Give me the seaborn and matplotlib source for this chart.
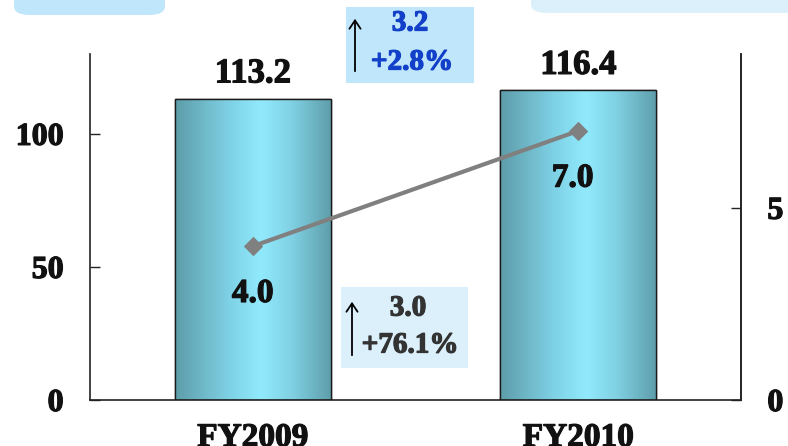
import numpy as np
import pandas as pd
import matplotlib
matplotlib.use("Agg")
import matplotlib.pyplot as plt
import matplotlib.patheffects as pe
import seaborn as sns
from matplotlib.colors import LinearSegmentedColormap
from matplotlib.patches import FancyBboxPatch, Rectangle, FancyArrowPatch

categories = ["FY2009", "FY2010"]
bar_values = [113.2, 116.4]
line_values = [4.0, 7.0]
bar_labels = ["113.2", "116.4"]
line_labels = ["4.0", "7.0"]
box1_lines = ["3.2", "+2.8%"]
box2_lines = ["3.0", "+76.1%"]
left_ticks = [0, 50, 100]
right_ticks = [0, 5]

sns.set_theme(style="white")
plt.rcParams["font.family"] = ["Liberation Serif", "DejaVu Serif"]
plt.rcParams["font.weight"] = "bold"


def heavy(color):
    return [pe.withStroke(linewidth=0.9, foreground=color)]


fig = plt.figure(figsize=(7.88, 4.46), dpi=100)
ax = fig.add_axes([90/788, 46/446, (741-90)/788, (400-54)/446])

df = pd.DataFrame({"cat": categories, "val": bar_values})
sns.barplot(data=df, x="cat", y="val", width=0.48, ax=ax, color="#8ee9fb",
            edgecolor="#1a1a1a", linewidth=1.0, zorder=2)

cmap = LinearSegmentedColormap.from_list(
    "cyl", [(0, "#5e9daa"), (0.35, "#7fd2e6"), (0.55, "#91eafc"), (0.75, "#7fd0e2"), (1, "#5e9daa")])
grad = np.linspace(0, 1, 256).reshape(1, -1)
for p in list(ax.patches):
    x0, y0 = p.get_x(), p.get_y()
    w, h = p.get_width(), p.get_height()
    im = ax.imshow(grad, cmap=cmap, extent=[x0, x0 + w, y0, y0 + h], aspect="auto", zorder=2.5)
    im.set_clip_path(p)
    ax.add_patch(Rectangle((x0, y0), w, h, fill=False, edgecolor="#1a1a1a", linewidth=1.0, zorder=3))

ax.set_xlim(-0.5, 1.5)
ax.set_ylim(0, 130)
ax.set_yticks(left_ticks)
ax.set_yticklabels([str(t) for t in left_ticks], fontsize=23, fontweight="bold")
ax.set_xticks([0, 1])
ax.set_xticklabels(categories, fontsize=24, fontweight="bold")
ax.set_xticks([0.5], minor=True)
ax.tick_params(axis="x", which="major", length=0, pad=16)
ax.tick_params(axis="x", which="minor", direction="in", length=6, width=1, color="#222222")
ax.tick_params(axis="y", direction="in", length=7, width=1, color="#222222", pad=19, left=True)
ax.set_xlabel("")
ax.set_ylabel("")
for s in ["left", "bottom", "right"]:
    ax.spines[s].set_color("#222222")
    ax.spines[s].set_linewidth(1.2)
ax.spines["top"].set_visible(False)
for t in ax.get_xticklabels() + ax.get_yticklabels():
    t.set_path_effects(heavy("#111111"))
    t.set_color("#111111")

for i, (v, lab) in enumerate(zip(bar_values, bar_labels)):
    ax.annotate(lab, (i, v), xytext=(0, 6), textcoords="offset points",
                ha="center", va="bottom", fontsize=25, fontweight="bold", color="#111111",
                path_effects=heavy("#111111"))

ax2 = ax.twinx()
sns.lineplot(x=[0, 1], y=line_values, ax=ax2, color="#808080", linewidth=3,
             marker="D", markersize=9, markeredgecolor="#808080", zorder=4)
ax2.set_ylim(0, 9)
ax2.set_xlim(-0.5, 1.5)
ax2.set_yticks(right_ticks)
ax2.set_yticklabels([str(t) for t in right_ticks], fontsize=23, fontweight="bold")
ax2.tick_params(axis="y", direction="in", length=7, width=1, color="#222222", pad=19, right=True)
ax2.set_ylabel("")
for s in ["top", "left", "bottom"]:
    ax2.spines[s].set_visible(False)
ax2.spines["right"].set_color("#222222")
ax2.spines["right"].set_linewidth(1.2)
for t in ax2.get_yticklabels():
    t.set_path_effects(heavy("#111111"))
    t.set_color("#111111")

for i, (v, lab) in enumerate(zip(line_values, line_labels)):
    ax2.annotate(lab, (i, v), xytext=(-4 if i else 0, -34), textcoords="offset points",
                 ha="center", va="center", fontsize=24, fontweight="bold", color="#111111",
                 path_effects=heavy("#111111"))

def fx(px):
    return px / 788
def fy(py):
    return (446 - py) / 446

# top decorative boxes
fig.patches.append(FancyBboxPatch((fx(14), fy(15)), fx(165) - fx(14), 40/446,
                                  boxstyle="round,pad=0,rounding_size=0.02",
                                  transform=fig.transFigure, facecolor="#c0e6fc", edgecolor="none"))
fig.patches.append(FancyBboxPatch((fx(531), fy(13)), 280/788, 40/446,
                                  boxstyle="round,pad=0,rounding_size=0.02",
                                  transform=fig.transFigure, facecolor="#dcf0fc", edgecolor="none"))

# annotation boxes
fig.patches.append(Rectangle((fx(346), fy(83)), fx(474) - fx(346), fy(7) - fy(83),
                             transform=fig.transFigure, facecolor="#c0e6fc", edgecolor="none", zorder=5))
fig.text(fx(410), fy(23), box1_lines[0], ha="center", va="center", fontsize=21,
         fontweight="bold", color="#1240c8", zorder=6, path_effects=heavy("#1240c8"))
fig.text(fx(412), fy(62), box1_lines[1], ha="center", va="center", fontsize=21,
         fontweight="bold", color="#1240c8", zorder=6, path_effects=heavy("#1240c8"))
fig.add_artist(FancyArrowPatch((fx(355), fy(74)), (fx(355), fy(16)),
               transform=fig.transFigure, arrowstyle="->,head_length=6,head_width=4",
               color="black", linewidth=1.3, zorder=6))

fig.patches.append(Rectangle((fx(341), fy(368)), fx(468) - fx(341), fy(287) - fy(368),
                             transform=fig.transFigure, facecolor="#dcf0fc", edgecolor="none", zorder=5))
fig.text(fx(408), fy(308), box2_lines[0], ha="center", va="center", fontsize=21,
         fontweight="bold", color="#333333", zorder=6, path_effects=heavy("#333333"))
fig.text(fx(410), fy(345), box2_lines[1], ha="center", va="center", fontsize=21,
         fontweight="bold", color="#333333", zorder=6, path_effects=heavy("#333333"))
fig.add_artist(FancyArrowPatch((fx(352), fy(358)), (fx(352), fy(299)),
               transform=fig.transFigure, arrowstyle="->,head_length=6,head_width=4",
               color="black", linewidth=1.3, zorder=6))

fig.savefig("out.png", dpi=100)
